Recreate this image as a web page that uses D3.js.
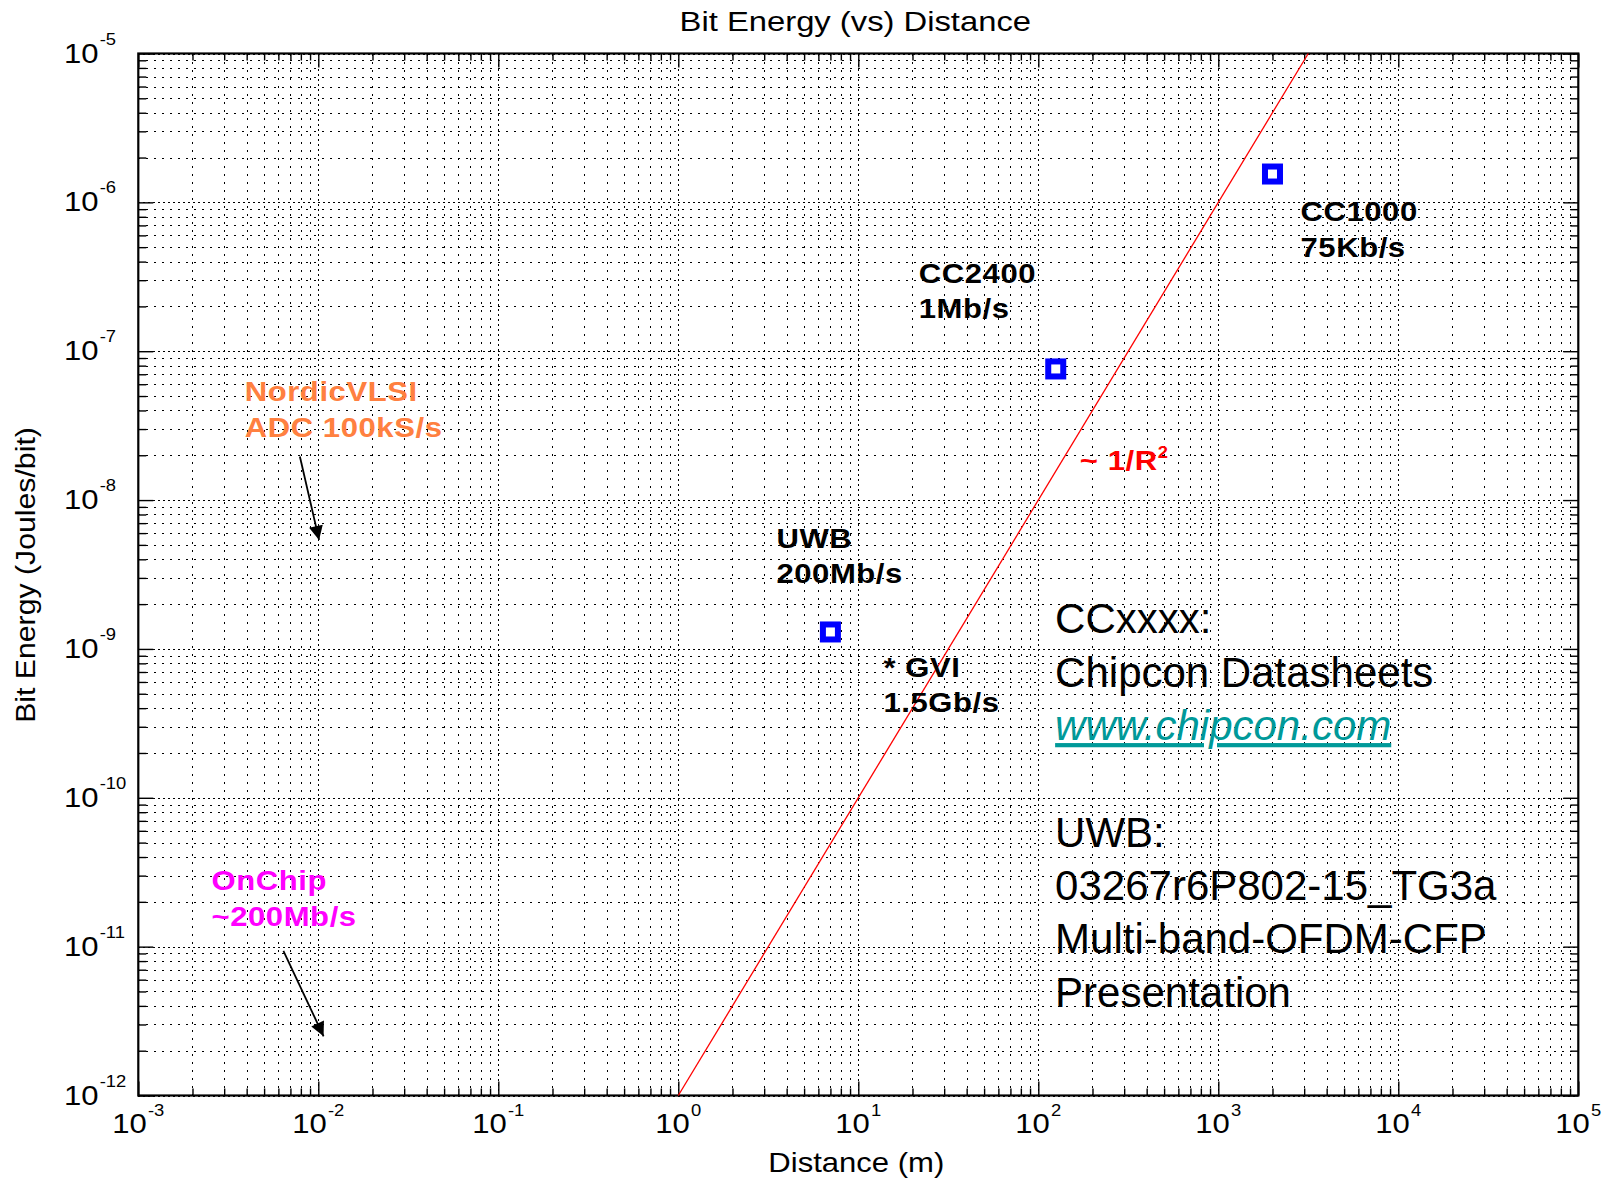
<!DOCTYPE html>
<meta charset="utf-8">

<style type="text/css">
	body {
		margin: 0;
		background: #fff;
	}

	svg {
		display: block;
		font-family: "Liberation Sans", Arial, Helvetica, sans-serif;
	}

	.grid-minor {
		stroke: #000;
		stroke-width: 1;
		stroke-dasharray: 2, 6;
		shape-rendering: crispEdges;
	}

	.grid-major {
		stroke: #000;
		stroke-width: 1;
		stroke-dasharray: 2, 3;
		shape-rendering: crispEdges;
	}

	.ticks line {
		stroke: #000;
		stroke-width: 1.4;
	}

	.ticks path {
		display: none;
	}

	.tick-label {
		font-size: 27px;
		fill: #000;
	}

	.note {
		font-size: 27px;
		font-weight: bold;
		letter-spacing: 0.5px;
	}

	.source {
		font-size: 42px;
	}
</style>

<body>
	<div id="chart"></div>
</body>

<script src="https://d3js.org/d3.v7.min.js"></script>

<script>

	// measured radios
	const radios = ["UWB", "CC2400", "CC1000"];
	const rates = ["200Mb/s", "1Mb/s", "75Kb/s"];
	const distance = [7, 125, 2000];          // m
	const bitEnergy = [1.3e-9, 7.6e-8, 1.55e-6]; // J/bit

	// ~1/R^2 reference line
	const trendDistance = [1, 3162];
	const trendEnergy = [1e-12, 1e-5];

	// decades on the axes
	const xExponents = [-3, -2, -1, 0, 1, 2, 3, 4, 5];
	const yExponents = [-12, -11, -10, -9, -8, -7, -6, -5];

	// side notes (text lines)
	const sourceLines = ["CCxxxx:", "Chipcon Datasheets", "www.chipcon.com", "",
		"UWB:", "03267r6P802-15_TG3a", "Multi-band-OFDM-CFP", "Presentation"];

	//basic style presets
	const width = 1606;
	const height = 1183;
	const margin = { top: 53.5, right: 27.7, bottom: 87.5, left: 138.3 };
	const stretch = 1.15; // the figure text is rendered a bit wide
	const lineGap = 35.5;

	const xScale = d3.scaleLog()
		.domain([1e-3, 1e5])
		.range([margin.left, width - margin.right]);

	const yScale = d3.scaleLog()
		.domain([1e-12, 1e-5])
		.range([height - margin.bottom, margin.top]);

	const svg = d3.select("#chart").append("svg")
		.attr("width", width)
		.attr("height", height);

	const x0 = margin.left, x1 = width - margin.right;
	const y0 = margin.top, y1 = height - margin.bottom;

	// tick values: 1..9 per decade
	function decadeValues(exps) {
		const out = [];
		exps.slice(0, -1).forEach(e => {
			for (let k = 1; k <= 9; k++) out.push({ v: k * Math.pow(10, e), major: k === 1 });
		});
		out.push({ v: Math.pow(10, exps[exps.length - 1]), major: true });
		return out;
	}
	const xVals = decadeValues(xExponents);
	const yVals = decadeValues(yExponents);

	// grid
	const grid = svg.append("g");
	grid.selectAll(".gx").data(xVals).enter().append("line")
		.attr("class", d => d.major ? "grid-major" : "grid-minor")
		.attr("x1", d => Math.round(xScale(d.v)) + 0.5).attr("x2", d => Math.round(xScale(d.v)) + 0.5)
		.attr("y1", y1).attr("y2", y0);
	grid.selectAll(".gy").data(yVals).enter().append("line")
		.attr("class", d => d.major ? "grid-major" : "grid-minor")
		.attr("x1", x0).attr("x2", x1)
		.attr("y1", d => Math.round(yScale(d.v)) + 0.5).attr("y2", d => Math.round(yScale(d.v)) + 0.5);

	// tick marks on all four sides, pointing in
	const xMajor = xVals.filter(d => d.major).map(d => d.v);
	const xMinor = xVals.filter(d => !d.major).map(d => d.v);
	const yMajor = yVals.filter(d => d.major).map(d => d.v);
	const yMinor = yVals.filter(d => !d.major).map(d => d.v);

	[[xMajor, 14], [xMinor, 7]].forEach(([vals, len]) => {
		svg.append("g").attr("class", "ticks")
			.attr("transform", `translate(0,${y1})`)
			.call(d3.axisBottom(xScale).tickValues(vals).tickSize(-len).tickFormat(""));
		svg.append("g").attr("class", "ticks")
			.attr("transform", `translate(0,${y0})`)
			.call(d3.axisTop(xScale).tickValues(vals).tickSize(-len).tickFormat(""));
	});
	[[yMajor, 15], [yMinor, 8]].forEach(([vals, len]) => {
		svg.append("g").attr("class", "ticks")
			.attr("transform", `translate(${x0},0)`)
			.call(d3.axisLeft(yScale).tickValues(vals).tickSize(-len).tickFormat(""));
		svg.append("g").attr("class", "ticks")
			.attr("transform", `translate(${x1},0)`)
			.call(d3.axisRight(yScale).tickValues(vals).tickSize(-len).tickFormat(""));
	});

	svg.append("rect")
		.attr("x", x0).attr("y", y0)
		.attr("width", x1 - x0).attr("height", y1 - y0)
		.attr("fill", "none")
		.attr("stroke", "#000")
		.attr("stroke-width", 2.2);

	// text placed in a stretched group
	function wideText(x, y, extra) {
		return svg.append("g")
			.attr("transform", `translate(${x},${y}) ${extra || ""} scale(${stretch},1)`)
			.append("text");
	}

	// tick labels 10^n
	xExponents.forEach(e => {
		const t = wideText(xScale(Math.pow(10, e)), y1 + 37)
			.attr("class", "tick-label")
			.attr("text-anchor", "middle");
		t.append("tspan").text("10");
		t.append("tspan").attr("dy", -17).attr("dx", 1).style("font-size", "16px").text(e);
	});
	yExponents.forEach(e => {
		const t = wideText(64, yScale(Math.pow(10, e)) + 9)
			.attr("class", "tick-label");
		t.append("tspan").text("10");
		t.append("tspan").attr("dy", -18).attr("dx", 1).style("font-size", "16px").text(e);
	});

	// titles
	wideText((x0 + x1) / 2 - 3, 31).attr("text-anchor", "middle")
		.style("font-size", "28.5px").text("Bit Energy (vs) Distance");
	wideText((x0 + x1) / 2 - 2, 1172).attr("text-anchor", "middle")
		.style("font-size", "27px").text("Distance (m)");
	svg.append("g")
		.attr("transform", `translate(35,575) rotate(-90) scale(1.12,1)`)
		.append("text").attr("text-anchor", "middle")
		.style("font-size", "27px").text("Bit Energy (Joules/bit)");

	// reference line
	const line = d3.line()
		.x(d => xScale(d[0]))
		.y(d => yScale(d[1]));
	svg.append("path")
		.attr("d", line(d3.zip(trendDistance, trendEnergy)))
		.attr("fill", "none")
		.attr("stroke", "#ff0000")
		.attr("stroke-width", 1.3);

	// radio markers
	const pts = radios.map((name, i) => ({ name, rate: rates[i], x: distance[i], y: bitEnergy[i] }));
	svg.append("g").selectAll("rect").data(pts).enter().append("rect")
		.attr("x", d => xScale(d.x) - 7.5)
		.attr("y", d => yScale(d.y) - 7.5)
		.attr("width", 15).attr("height", 15)
		.attr("fill", "#fff")
		.attr("stroke", "#0000ff")
		.attr("stroke-width", 6);

	// label offsets from each marker
	const labelOffset = { UWB: [-54, -84], CC2400: [-137, -86], CC1000: [28, 47] };
	pts.forEach(d => {
		const [dx, dy] = labelOffset[d.name];
		const px = xScale(d.x) + dx, py = yScale(d.y) + dy;
		wideText(px, py).attr("class", "note").style("fill", "#000").text(d.name);
		wideText(px, py + lineGap).attr("class", "note").style("fill", "#000").text(d.rate);
	});

	// other annotations, anchored in data units
	function note(xv, yv, lines, color) {
		lines.forEach((s, i) => {
			wideText(xScale(xv), yScale(yv) + i * lineGap)
				.attr("class", "note").style("fill", color).text(s);
		});
	}
	note(13.8, 6.5e-10, ["* GVI", "1.5Gb/s"], "#000");
	note(0.0039, 4.6e-8, ["NordicVLSI", "ADC 100kS/s"], "#ff8040");
	note(0.00255, 2.4e-11, ["OnChip", "~200Mb/s"], "#ff00ff");

	const r2 = wideText(xScale(170), yScale(1.59e-8)).attr("class", "note").style("fill", "#ff0000");
	r2.append("tspan").text("~ 1/R");
	r2.append("tspan").attr("dy", -12).attr("dx", 0).style("font-size", "16px").text("2");

	// arrows
	const defs = svg.append("defs");
	defs.append("marker")
		.attr("id", "head")
		.attr("viewBox", "0 0 10 10")
		.attr("refX", 10).attr("refY", 5)
		.attr("markerWidth", 20).attr("markerHeight", 14)
		.attr("markerUnits", "userSpaceOnUse")
		.attr("orient", "auto")
		.append("path").attr("d", "M0,0 L10,5 L0,10 z").attr("fill", "#000");

	const arrows = [
		[[0.0079, 1.96e-8], [0.0101, 5.4e-9]],
		[[0.0064, 9.35e-12], [0.0107, 2.5e-12]]
	];
	svg.append("g").selectAll("path").data(arrows).enter().append("path")
		.attr("d", d => line(d))
		.attr("stroke", "#000")
		.attr("stroke-width", 1.8)
		.attr("fill", "none")
		.attr("marker-end", "url(#head)");

	// source notes on the right
	const src = svg.append("g");
	sourceLines.forEach((s, i) => {
		const t = src.append("text")
			.attr("class", "source")
			.attr("x", xScale(124))
			.attr("y", yScale(1.27e-9) + i * 53.3)
			.style("fill", "#000")
			.text(s);
		if (s.startsWith("www")) {
			t.style("fill", "#009999")
				.style("font-style", "italic")
				.style("text-decoration", "underline");
		}
	});

</script>

<html>
